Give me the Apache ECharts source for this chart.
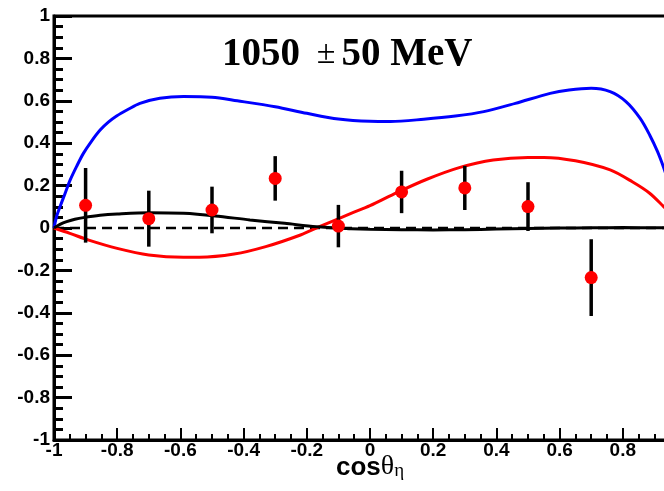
<!DOCTYPE html>
<html><head><meta charset="utf-8">
<script src="https://cdn.jsdelivr.net/npm/echarts@6/dist/echarts.min.js"></script>
<style>html,body{margin:0;padding:0;background:#fff}#c{width:664px;height:491px}</style>
</head><body><div id="c"></div>
<script>
// Data points (cos theta_eta, value, error)
const pointX = [-0.9, -0.7, -0.5, -0.3, -0.1, 0.1, 0.3, 0.5, 0.7];
const pointY = [0.107, 0.044, 0.085, 0.234, 0.009, 0.17, 0.189, 0.101, -0.234];
const pointErr = [0.176, 0.132, 0.11, 0.105, 0.1, 0.1, 0.104, 0.115, 0.181];

// Blue curve
const blueX = [-1, -0.992, -0.981, -0.965, -0.949, -0.928, -0.907, -0.881, -0.854, -0.828, -0.802, -0.765, -0.728, -0.665, -0.59, -0.5, -0.42, -0.3, -0.2, -0.1, 0, 0.065, 0.17, 0.27, 0.36, 0.46, 0.57, 0.63, 0.7, 0.76, 0.81, 0.855, 0.885, 0.91, 0.93, 0.96, 1];
const blueY = [0, 0.053, 0.1, 0.163, 0.226, 0.292, 0.352, 0.41, 0.462, 0.499, 0.528, 0.56, 0.588, 0.612, 0.62, 0.617, 0.6, 0.572, 0.541, 0.514, 0.503, 0.502, 0.513, 0.528, 0.549, 0.588, 0.635, 0.651, 0.659, 0.643, 0.596, 0.517, 0.439, 0.36, 0.282, 0.15, 0];

// Red curve
const redX = [-1, -0.95, -0.89, -0.8, -0.7, -0.59, -0.54, -0.43, -0.33, -0.22, -0.16, -0.06, 0, 0.085, 0.18, 0.285, 0.39, 0.5, 0.55, 0.65, 0.76, 0.83, 0.885, 0.93, 1];
const redY = [0, -0.025, -0.057, -0.096, -0.127, -0.138, -0.138, -0.123, -0.088, -0.033, 0.006, 0.069, 0.105, 0.167, 0.23, 0.286, 0.321, 0.333, 0.333, 0.317, 0.274, 0.218, 0.164, 0.1, 0];

// Black curve
const blackX = [-1, -0.981, -0.96, -0.934, -0.907, -0.854, -0.8, -0.7, -0.59, -0.49, -0.38, -0.27, -0.17, -0.06, 0, 0.1, 0.2, 0.3, 0.4, 0.5, 0.6, 0.7, 0.8, 0.9, 1];
const blackY = [0, 0.017, 0.03, 0.041, 0.049, 0.06, 0.066, 0.072, 0.069, 0.057, 0.038, 0.022, 0.006, -0.003, -0.006, -0.008, -0.009, -0.008, -0.005, -0.002, 0, 0.001, 0.002, 0.001, 0];

// Zero reference line
const zeroX = [-1, 1];
const zeroY = [0, 0];

const titleParts = ['1050 ', '\u00B1', '50 MeV'];

const zip = (xs, ys) => xs.map((x, i) => [x, ys[i]]);

const chart = echarts.init(document.getElementById('c'), null, {renderer: 'canvas'});
const labelFont = {fontFamily: 'Liberation Sans', fontWeight: 'bold', fontSize: 19, color: '#000'};
const curveCommon = {type: 'line', showSymbol: false, smooth: 0.3, z: 2};

const option = {
  animation: false,
  backgroundColor: '#fff',
  grid: {left: 54, top: 16, width: 632, height: 424, outerBoundsMode: 'none', containLabel: false,
         show: true, borderColor: '#000', borderWidth: 3, backgroundColor: 'transparent'},
  title: {
    text: '{a|' + titleParts[0] + '}{b|' + titleParts[1] + '}{a|' + titleParts[2] + '}',
    left: 217, top: 30,
    textStyle: {
      rich: {
        a: {fontFamily: 'Liberation Serif', fontWeight: 'bold', fontSize: 39, color: '#000', verticalAlign: 'bottom'},
        b: {fontFamily: 'Liberation Serif', fontWeight: 'normal', fontSize: 34, color: '#000', verticalAlign: 'bottom', padding: [0, 6, 3, 7]}
      }
    }
  },
  xAxis: {
    type: 'value', min: -1, max: 1, interval: 0.2,
    axisLine: {show: true, onZero: false, lineStyle: {color: '#000', width: 3}},
    axisTick: {show: true, inside: true, length: 12, lineStyle: {color: '#000', width: 2}},
    minorTick: {show: true, splitNumber: 4, length: 6, lineStyle: {color: '#000', width: 2}},
    splitLine: {show: false},
    axisLabel: Object.assign({margin: 1, showMinLabel: true}, labelFont),
    name: '{c|cos}{t|\u03B8}{e|\u03B7}',
    nameLocation: 'middle', nameGap: 10, nameMoveOverlap: false,
    nameTextStyle: {
      rich: {
        c: {fontFamily: 'Liberation Sans', fontWeight: 'bold', fontSize: 26, color: '#000', verticalAlign: 'bottom'},
        t: {fontFamily: 'Liberation Serif', fontSize: 28, color: '#000', verticalAlign: 'bottom'},
        e: {fontFamily: 'Liberation Serif', fontSize: 19, color: '#000', verticalAlign: 'bottom', padding: [12, 0, 0, 0]}
      }
    }
  },
  yAxis: {
    type: 'value', min: -1, max: 1, interval: 0.2,
    axisLine: {show: true, onZero: false, lineStyle: {color: '#000', width: 3}},
    axisTick: {show: true, inside: true, length: 18, lineStyle: {color: '#000', width: 3}},
    minorTick: {show: true, splitNumber: 4, length: 9, lineStyle: {color: '#000', width: 3}},
    splitLine: {show: false},
    axisLabel: Object.assign({margin: 4}, labelFont)
  },
  series: [
    {type: 'line', data: zip(zeroX, zeroY), showSymbol: false, lineStyle: {color: '#000', width: 2.5, type: [10, 6]}, z: 1},
    Object.assign({data: zip(blueX, blueY), lineStyle: {color: '#0000ff', width: 3}}, curveCommon),
    Object.assign({data: zip(redX, redY), lineStyle: {color: '#ff0000', width: 3}}, curveCommon),
    Object.assign({data: zip(blackX, blackY), lineStyle: {color: '#000', width: 3}}, curveCommon),
    {
      type: 'custom', z: 3,
      data: pointX.map((x, i) => [x, pointY[i] - pointErr[i], pointY[i] + pointErr[i]]),
      encode: {x: 0, y: [1, 2]},
      renderItem: function (params, api) {
        const x = api.value(0);
        const p1 = api.coord([x, api.value(1)]);
        const p2 = api.coord([x, api.value(2)]);
        return {type: 'line', shape: {x1: p1[0], y1: p1[1], x2: p2[0], y2: p2[1]}, style: {stroke: '#000', lineWidth: 3.5}};
      }
    },
    {type: 'scatter', data: zip(pointX, pointY), symbol: 'circle', symbolSize: 13, itemStyle: {color: '#ff0000', opacity: 1}, z: 4}
  ]
};
chart.setOption(option);
</script>
</body></html>
